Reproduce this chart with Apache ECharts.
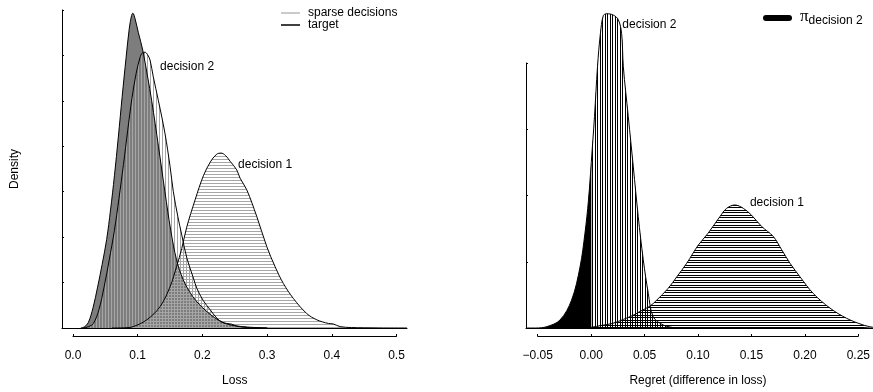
<!DOCTYPE html>
<html><head><meta charset="utf-8">
<script src="https://cdn.jsdelivr.net/npm/echarts@6/dist/echarts.min.js"></script>
<style>html,body{margin:0;padding:0;background:#fff}#c{width:873px;height:392px}</style>
</head><body><div id="c"></div>
<script>
// ---------- Left panel: loss densities ----------
const lossTicks = [0.0, 0.1, 0.2, 0.3, 0.4, 0.5];
const densityTicks = [0, 1, 2, 3, 4, 5, 6, 7];
// dark gray filled curve
const targetX = [0.012, 0.018, 0.0237, 0.031, 0.038, 0.045, 0.052, 0.058, 0.064, 0.070, 0.076, 0.082, 0.087, 0.0905, 0.0925, 0.096, 0.101, 0.1077, 0.115, 0.1216, 0.132, 0.142, 0.151, 0.160, 0.170, 0.180, 0.190, 0.200, 0.212, 0.225, 0.2375, 0.250, 0.270, 0.300];
const targetY = [0, 0.03, 0.12, 0.45, 0.90, 1.40, 1.95, 2.60, 3.35, 4.20, 5.10, 5.95, 6.60, 6.88, 6.93, 6.80, 6.50, 6.12, 5.55, 5.00, 4.00, 3.00, 2.15, 1.50, 1.07, 0.80, 0.60, 0.45, 0.30, 0.17, 0.09, 0.05, 0.02, 0];
// decision 2 (vertical hatching)
const dec2X = [0.016, 0.024, 0.0315, 0.040, 0.048, 0.056, 0.064, 0.071, 0.078, 0.0845, 0.091, 0.0975, 0.1035, 0.1075, 0.1113, 0.115, 0.119, 0.124, 0.132, 0.142, 0.150, 0.155, 0.162, 0.168, 0.1757, 0.186, 0.1914, 0.2014, 0.212, 0.222, 0.230, 0.2375, 0.245, 0.253, 0.270, 0.300];
const dec2Y = [0, 0.03, 0.10, 0.40, 0.90, 1.50, 2.15, 2.85, 3.60, 4.35, 5.05, 5.60, 5.95, 6.06, 6.07, 6.02, 5.90, 5.53, 5.00, 4.29, 3.55, 3.00, 2.45, 2.05, 1.55, 1.10, 0.87, 0.60, 0.40, 0.22, 0.13, 0.10, 0.085, 0.04, 0.01, 0];
// decision 1 (horizontal hatching)
const dec1X = [0.060, 0.080, 0.093, 0.114, 0.1345, 0.150, 0.160, 0.168, 0.1757, 0.1886, 0.2014, 0.212, 0.2215, 0.2287, 0.2355, 0.2427, 0.253, 0.258, 0.2685, 0.284, 0.2994, 0.3122, 0.325, 0.3405, 0.361, 0.3767, 0.3946, 0.402, 0.4127, 0.430, 0.450, 0.480, 0.516];
const dec1Y = [0, 0.005, 0.03, 0.18, 0.47, 0.91, 1.35, 1.75, 2.22, 2.82, 3.35, 3.65, 3.82, 3.85, 3.80, 3.67, 3.48, 3.30, 3.04, 2.45, 1.79, 1.35, 0.98, 0.65, 0.32, 0.18, 0.10, 0.09, 0.03, 0.01, 0.005, 0.001, 0];

// ---------- Right panel: regret densities ----------
const regretTicks = [-0.05, 0.00, 0.05, 0.10, 0.15, 0.20, 0.25];
const regretDensityTicks = [0, 1, 2, 3, 4];
const reg2X = [-0.060, -0.052, -0.0416, -0.0292, -0.0184, -0.0105, -0.0059, -0.0026, 0.0, 0.0030, 0.0058, 0.0085, 0.0112, 0.0143, 0.0205, 0.0252, 0.0283, 0.0299, 0.0345, 0.0392, 0.0438, 0.0485, 0.0532, 0.0578, 0.0672, 0.079];
const reg2Y = [0, 0, 0.02, 0.12, 0.42, 0.92, 1.43, 1.93, 2.50, 3.19, 3.94, 4.44, 4.71, 4.74, 4.72, 4.65, 4.44, 3.94, 3.19, 2.43, 1.68, 1.03, 0.52, 0.17, 0.045, 0];
const reg1X = [-0.005, 0.0, 0.010, 0.020, 0.030, 0.040, 0.0454, 0.0548, 0.061, 0.0718, 0.0797, 0.089, 0.0998, 0.109, 0.120, 0.1263, 0.134, 0.1418, 0.1496, 0.159, 0.1698, 0.1776, 0.1854, 0.1948, 0.2071, 0.2227, 0.2382, 0.2537, 0.2628];
const reg1Y = [0, 0.01, 0.04, 0.07, 0.13, 0.20, 0.25, 0.33, 0.42, 0.60, 0.77, 0.976, 1.25, 1.43, 1.68, 1.805, 1.855, 1.805, 1.70, 1.53, 1.38, 1.18, 0.976, 0.77, 0.52, 0.30, 0.146, 0.045, 0.01];

// curve labels (data space)
const leftLabels = [{text: 'decision 2', x: 0.1345, y: 5.745}, {text: 'decision 1', x: 0.255, y: 3.59}];
const rightLabels = [{text: 'decision 2', x: 0.029, y: 4.57}, {text: 'decision 1', x: 0.148, y: 1.885}];

const FONT = "'Liberation Sans', Arial, Helvetica, sans-serif";
const zip = (xs, ys) => xs.map((x, i) => [x, ys[i]]);

function hatch(dir, color, period, offsets) {
  const c = document.createElement('canvas');
  c.width = period; c.height = period;
  const g = c.getContext('2d');
  g.fillStyle = color;
  offsets.forEach(o => { if (dir === 'v') g.fillRect(o, 0, 1, period); else g.fillRect(0, o, period, 1); });
  return {image: c, repeat: 'repeat'};
}

function mp(labels) {
  return {
    symbol: 'circle', symbolSize: 0, silent: true,
    label: {show: true, position: 'right', distance: 0, color: '#000', fontSize: 12, fontFamily: FONT,
      formatter: p => p.name},
    data: labels.map(l => ({name: l.text, coord: [l.x, l.y]}))
  };
}

const curve = (name, xi, data, line, area, extra) => Object.assign({
  type: 'line', name, xAxisIndex: xi, yAxisIndex: xi, data,
  smooth: 0.35, symbol: 'none', showSymbol: false, silent: true,
  lineStyle: line, areaStyle: area, animation: false
}, extra || {});

const grayV = hatch('v', '#a6a6a6', 3, [0]);
const grayH = hatch('h', '#a6a6a6', 3, [0]);
const blackV = hatch('v', '#000', 5, [0, 2]);
const blackH = hatch('h', '#000', 5, [0, 2]);

const reg2Neg = zip(reg2X, reg2Y).filter(p => p[0] <= 0);
const reg2Pos = zip(reg2X, reg2Y).filter(p => p[0] >= 0);

const lossMin = -0.017, lossMax = 0.516;
const regMin = -0.0609, regMax = 0.2628;

const axisTextStyle = {color: '#000', fontSize: 12, fontFamily: FONT};
const hidden = (gi, extra) => Object.assign({type: 'value', gridIndex: gi, show: false, axisLine: {onZero: false}}, extra || {});
const line1 = {show: true, onZero: false, lineStyle: {color: '#000', width: 1}};

const option = {
  animation: false,
  backgroundColor: '#fff',
  textStyle: {fontFamily: FONT},
  grid: [
    {left: 62, right: 873 - 407, top: 10, bottom: 64},
    {left: 73, width: 323.5, top: 10, bottom: 52},
    {left: 526, right: 0, top: 10, bottom: 64},
    {left: 526, width: 20, top: 63, bottom: 64},
    {left: 537.7, width: 321.6, top: 10, bottom: 52}
  ],
  legend: [
    {
      orient: 'vertical', left: 276, top: 2, itemGap: 0, itemWidth: 19, itemHeight: 1.5,
      icon: 'rect', selectedMode: false,
      textStyle: {color: '#000', fontSize: 12, fontFamily: FONT, lineHeight: 12, padding: [0, 0, 0, 3]},
      data: [
        {name: 'sparse decisions', itemStyle: {color: '#b8b8b8'}},
        {name: 'target', itemStyle: {color: '#000'}}
      ]
    },
    {
      left: 758, top: 3, itemWidth: 29, itemHeight: 6, selectedMode: false,
      icon: 'path://M3,0 L26,0 A3,3 0 0 1 26,6 L3,6 A3,3 0 0 1 3,0 Z',
      data: [{name: 'pi', itemStyle: {color: '#000'}}],
      formatter: () => '{pi|π}{sub|decision 2}',
      textStyle: {color: '#000', padding: [0, 0, 0, 3], lineHeight: 18, rich: {
        pi: {fontSize: 17, fontFamily: "'Liberation Serif', 'DejaVu Serif', serif", color: '#000', padding: [0, 0, 3, 0]},
        sub: {fontSize: 12, fontFamily: FONT, color: '#000', padding: [5, 0, 0, 0]}
      }}
    }
  ],
  xAxis: [
    {type: 'value', gridIndex: 0, min: lossMin, max: lossMax,
      axisLine: line1, axisTick: {show: false},
      axisLabel: {show: false}, splitLine: {show: false}},
    {type: 'value', gridIndex: 1, min: lossTicks[0], max: lossTicks[lossTicks.length - 1],
      interval: lossTicks[1] - lossTicks[0],
      axisLine: line1,
      axisTick: {show: true, inside: true, length: 2, lineStyle: {color: '#000'}},
      axisLabel: Object.assign({margin: 14, formatter: v => v.toFixed(1)}, axisTextStyle),
      splitLine: {show: false},
      name: 'Loss', nameLocation: 'middle', nameGap: 39, nameTextStyle: axisTextStyle},
    {type: 'value', gridIndex: 2, min: regMin, max: regMax,
      axisLine: line1, axisTick: {show: false},
      axisLabel: {show: false}, splitLine: {show: false}},
    hidden(3, {min: 0, max: 1}),
    {type: 'value', gridIndex: 4, min: regretTicks[0], max: regretTicks[regretTicks.length - 1],
      interval: 0.05,
      axisLine: line1,
      axisTick: {show: true, inside: true, length: 2, lineStyle: {color: '#000'}},
      axisLabel: Object.assign({margin: 14, formatter: v => (v < 0 ? '\u2212' : '') + Math.abs(v).toFixed(2)}, axisTextStyle),
      splitLine: {show: false},
      name: 'Regret (difference in loss)', nameLocation: 'middle', nameGap: 39, nameTextStyle: axisTextStyle}
  ],
  yAxis: [
    {type: 'value', gridIndex: 0, min: densityTicks[0], max: densityTicks[densityTicks.length - 1], interval: 1,
      axisLine: line1,
      axisTick: {show: true, inside: true, length: 2, lineStyle: {color: '#000'}},
      axisLabel: {show: false}, splitLine: {show: false},
      name: 'Density', nameLocation: 'middle', nameGap: 41, nameRotate: 90, nameTextStyle: axisTextStyle},
    hidden(1, {min: 0, max: 7}),
    hidden(2, {min: 0, max: 4.796}),
    {type: 'value', gridIndex: 3, min: regretDensityTicks[0], max: regretDensityTicks[regretDensityTicks.length - 1], interval: 1,
      axisLine: line1,
      axisTick: {show: true, inside: true, length: 2, lineStyle: {color: '#000'}},
      axisLabel: {show: false}, splitLine: {show: false}},
    hidden(4, {min: 0, max: 1})
  ],
  series: [
    // left panel
    curve('target', 0, zip(targetX, targetY), {color: '#000', width: 1}, {color: '#7d7d7d', opacity: 1}, {itemStyle: {color: '#000'}}),
    curve('sparse decisions', 0, zip(dec1X, dec1Y), {color: '#000', width: 1}, {color: grayH, opacity: 1}, {itemStyle: {color: '#b8b8b8'}, markPoint: mp([leftLabels[1]])}),
    curve('sparse decisions', 0, zip(dec2X, dec2Y), {color: '#000', width: 1}, {color: grayV, opacity: 1}, {itemStyle: {color: '#b8b8b8'}, markPoint: mp([leftLabels[0]])}),
    // right panel
    curve('pi', 2, reg2Neg, {width: 0}, {color: '#000', opacity: 1}, {itemStyle: {color: '#000'}}),
    curve('regret 1', 2, zip(reg1X, reg1Y), {color: '#000', width: 1}, {color: blackH, opacity: 1}, {itemStyle: {color: '#000'}, markPoint: mp([rightLabels[1]])}),
    curve('regret 2 hatch', 2, reg2Pos, {width: 0}, {color: blackV, opacity: 1}, {itemStyle: {color: '#000'}}),
    curve('regret 2', 2, zip(reg2X, reg2Y), {color: '#000', width: 1}, null, {itemStyle: {color: '#000'}, markPoint: mp([rightLabels[0]])})
  ]
};

const chart = echarts.init(document.getElementById('c'), null, {renderer: 'canvas'});
chart.setOption(option);
</script>
</body></html>
